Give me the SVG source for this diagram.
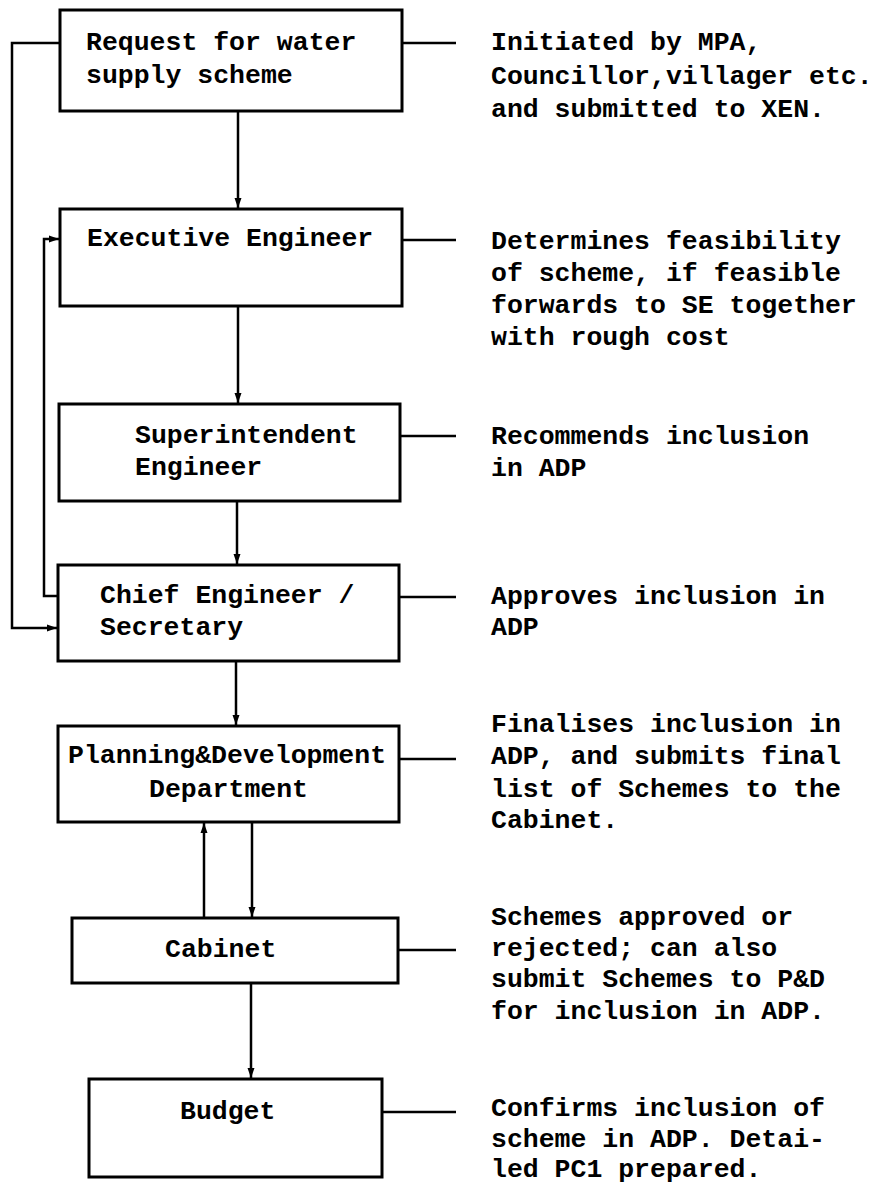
<svg xmlns="http://www.w3.org/2000/svg" width="875" height="1188" viewBox="0 0 875 1188">
<style>
.box{fill:#fff;stroke:#000;stroke-width:3}
.t{font-family:"Liberation Mono","Courier New",monospace;font-weight:bold;font-size:26.5px;fill:#000}
.c{fill:none;stroke:#000;stroke-width:2.5}
</style>
<defs>
<marker id="ah" markerUnits="userSpaceOnUse" markerWidth="10" markerHeight="10" viewBox="0 0 10 10" refX="10" refY="5" orient="auto">
<path d="M0,1.5 L10,5 L0,8.5 Z" fill="#000"/>
</marker>
</defs>
<rect width="875" height="1188" fill="#fff"/>
<g id="connectors">
<line class="c" x1="238" y1="111" x2="238" y2="208" marker-end="url(#ah)"/>
<line class="c" x1="238" y1="307" x2="238" y2="403" marker-end="url(#ah)"/>
<line class="c" x1="237" y1="501" x2="237" y2="564" marker-end="url(#ah)"/>
<line class="c" x1="236" y1="661" x2="236" y2="725" marker-end="url(#ah)"/>
<line class="c" x1="204" y1="918" x2="204" y2="823" marker-end="url(#ah)"/>
<line class="c" x1="252" y1="822" x2="252" y2="917" marker-end="url(#ah)"/>
<line class="c" x1="251" y1="983" x2="251" y2="1078" marker-end="url(#ah)"/>
<polyline class="c" points="60,43 12,43 12,628 57,628" marker-end="url(#ah)"/>
<polyline class="c" points="58,596 44,596 44,239 59,239" marker-end="url(#ah)"/>
<line class="c" x1="402" y1="43" x2="456" y2="43"/>
<line class="c" x1="402" y1="240" x2="456" y2="240"/>
<line class="c" x1="400" y1="436" x2="456" y2="436"/>
<line class="c" x1="399" y1="597" x2="456" y2="597"/>
<line class="c" x1="399" y1="759" x2="456" y2="759"/>
<line class="c" x1="398" y1="950" x2="456" y2="950"/>
<line class="c" x1="382" y1="1112" x2="456" y2="1112"/>
</g>
<g id="n1">
<rect class="box" x="60" y="10" width="342" height="101"/>
<text class="t" x="86" y="50">Request for water</text>
<text class="t" x="86" y="83">supply scheme</text>
</g>
<g id="n2">
<rect class="box" x="60" y="209" width="342" height="97"/>
<text class="t" x="87" y="246">Executive Engineer</text>
</g>
<g id="n3">
<rect class="box" x="59" y="404" width="341" height="97"/>
<text class="t" x="135" y="443">Superintendent</text>
<text class="t" x="135" y="475">Engineer</text>
</g>
<g id="n4">
<rect class="box" x="58" y="565" width="341" height="96"/>
<text class="t" x="100" y="603">Chief Engineer /</text>
<text class="t" x="100" y="635">Secretary</text>
</g>
<g id="n5">
<rect class="box" x="58" y="726" width="341" height="96"/>
<text class="t" x="68" y="763">Planning&amp;Development</text>
<text class="t" x="149" y="797">Department</text>
</g>
<g id="n6">
<rect class="box" x="72" y="918" width="326" height="65"/>
<text class="t" x="165" y="957">Cabinet</text>
</g>
<g id="n7">
<rect class="box" x="89" y="1079" width="293" height="98"/>
<text class="t" x="180" y="1119">Budget</text>
</g>
<g id="notes">
<text class="t" x="491" y="50">Initiated by MPA,</text>
<text class="t" x="491" y="84">Councillor,villager etc.</text>
<text class="t" x="491" y="117">and submitted to XEN.</text>
<text class="t" x="491" y="249">Determines feasibility</text>
<text class="t" x="491" y="281">of scheme, if feasible</text>
<text class="t" x="491" y="313">forwards to SE together</text>
<text class="t" x="491" y="345">with rough cost</text>
<text class="t" x="491" y="444">Recommends inclusion</text>
<text class="t" x="491" y="476">in ADP</text>
<text class="t" x="491" y="604">Approves inclusion in</text>
<text class="t" x="491" y="635">ADP</text>
<text class="t" x="491" y="732">Finalises inclusion in</text>
<text class="t" x="491" y="764">ADP, and submits final</text>
<text class="t" x="491" y="797">list of Schemes to the</text>
<text class="t" x="491" y="828">Cabinet.</text>
<text class="t" x="491" y="925">Schemes approved or</text>
<text class="t" x="491" y="956">rejected; can also</text>
<text class="t" x="491" y="987">submit Schemes to P&amp;D</text>
<text class="t" x="491" y="1019">for inclusion in ADP.</text>
<text class="t" x="491" y="1116">Confirms inclusion of</text>
<text class="t" x="491" y="1147">scheme in ADP. Detai-</text>
<text class="t" x="491" y="1177">led PC1 prepared.</text>
</g>
</svg>
